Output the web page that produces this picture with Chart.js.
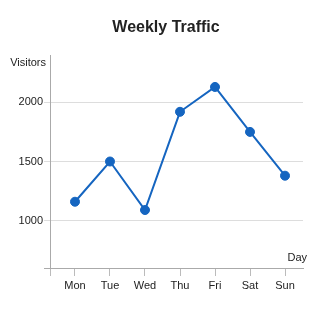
<!DOCTYPE html>
<html>
<head>
<meta charset="utf-8">
<script src="https://cdn.jsdelivr.net/npm/chart.js@4/dist/chart.umd.min.js"></script>
<style>
html,body{margin:0;padding:0;background:#fff;}
#wrap{width:320px;height:320px;}
</style>
</head>
<body>
<div id="wrap"><canvas id="c" width="320" height="320"></canvas></div>
<script>
const chartTitle = "Weekly Traffic";
const xTitle = "Day";
const yTitle = "Visitors";
const days = ["Mon", "Tue", "Wed", "Thu", "Fri", "Sat", "Sun"];
const visitors = [1160, 1500, 1090, 1920, 2130, 1750, 1380];
const yTickValues = [600, 1000, 1500, 2000];
const yTickLabels = ["", "1000", "1500", "2000"];
const yMin = 600, yMax = 2400;
const xMin = -0.714, xMax = 6.514;

const FONT = "'Liberation Sans', Arial, Helvetica, sans-serif";

const texts = {
  id: 'texts',
  afterDraw(chart) {
    const ctx = chart.ctx;
    const a = chart.chartArea;
    ctx.save();
    ctx.fillStyle = '#222';
    ctx.textBaseline = 'middle';
    ctx.font = 'bold 16px ' + FONT;
    ctx.textAlign = 'center';
    ctx.fillText(chartTitle, 166, 28);
    ctx.font = '11px ' + FONT;
    ctx.textAlign = 'right';
    ctx.fillText(yTitle, a.left - 4, a.top + 8);
    ctx.fillText(xTitle, a.right + 4, a.bottom - 10);
    ctx.restore();
  }
};

new Chart(document.getElementById('c'), {
  type: 'line',
  data: {
    datasets: [{
      data: days.map((d, i) => ({x: i, y: visitors[i]})),
      borderColor: '#1565c0',
      backgroundColor: '#1565c0',
      borderWidth: 2,
      pointRadius: 4.5,
      pointBorderWidth: 1,
      pointBackgroundColor: '#1565c0',
      tension: 0,
      fill: false
    }]
  },
  options: {
    responsive: false,
    animation: false,
    devicePixelRatio: 1,
    layout: {padding: {left: 0, right: 17, top: 55, bottom: 0}},
    plugins: {
      legend: {display: false},
      tooltip: {enabled: false},
      title: {display: false}
    },
    scales: {
      x: {
        type: 'linear',
        min: xMin,
        max: xMax,
        afterBuildTicks(scale) {
          scale.ticks = [{value: xMin}].concat(days.map((d, i) => ({value: i})));
        },
        afterFit(scale) { scale.height = 52; },
        grid: {
          drawOnChartArea: false,
          drawTicks: true,
          tickLength: 8,
          color: '#bbb',
          lineWidth: 1
        },
        border: {display: true, color: '#aaa', width: 1},
        ticks: {
          color: '#222',
          font: {family: FONT, size: 11},
          padding: 3,
          maxRotation: 0,
          autoSkip: false,
          callback: (v) => (Number.isInteger(v) && days[v] !== undefined) ? days[v] : ''
        }
      },
      y: {
        type: 'linear',
        min: yMin,
        max: yMax,
        afterBuildTicks(scale) {
          scale.ticks = yTickValues.map(v => ({value: v}));
        },
        afterFit(scale) { scale.width = 50; },
        grid: {
          color: (ctx) => ctx.tick && ctx.tick.value === yMin ? '#aaa' : '#ddd',
          tickLength: 6,
          lineWidth: 1
        },
        border: {display: true, color: '#aaa', width: 1},
        ticks: {
          color: '#222',
          font: {family: FONT, size: 11},
          padding: 1,
          callback: (v) => yTickLabels[yTickValues.indexOf(v)] ?? ''
        }
      }
    }
  },
  plugins: [texts]
});
</script>
</body>
</html>
